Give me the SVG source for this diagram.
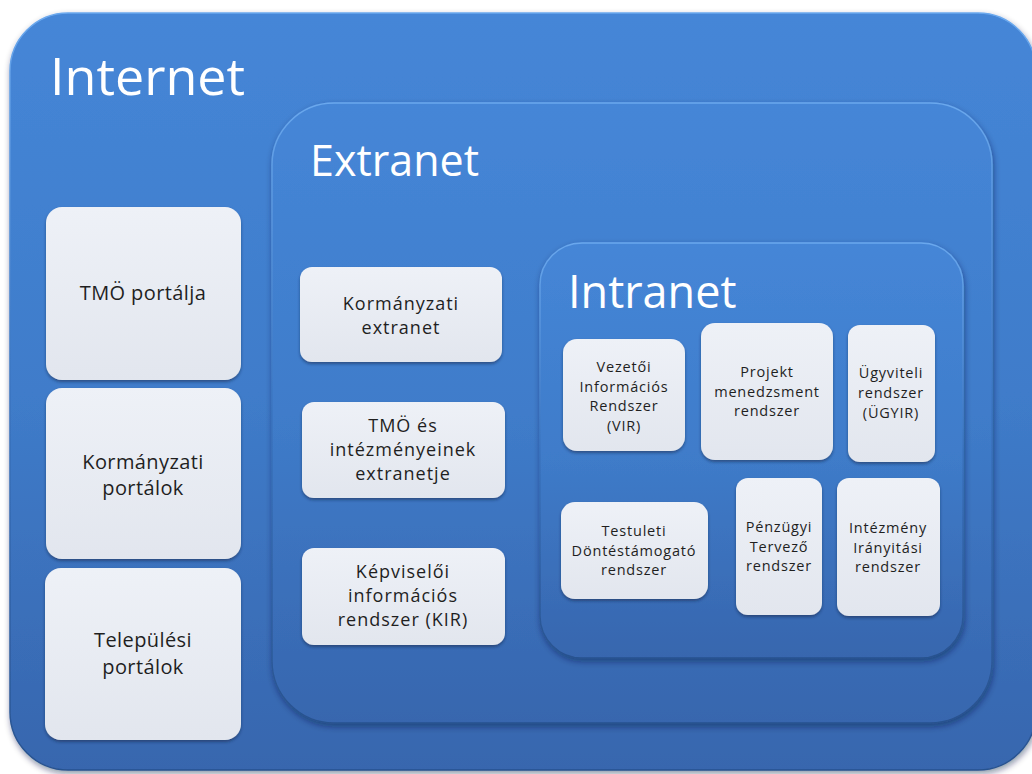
<svg xmlns="http://www.w3.org/2000/svg" width="1032" height="774" viewBox="0 0 1032 774">
<defs>
<linearGradient id="gBlue" x1="0" y1="0" x2="0" y2="1">
<stop offset="0" stop-color="#4586d7"/>
<stop offset="0.5" stop-color="#3f7cca"/>
<stop offset="1" stop-color="#3766ae"/>
</linearGradient>
<linearGradient id="gEdge" x1="0" y1="0" x2="0" y2="1">
<stop offset="0" stop-color="#6aa8ee"/>
<stop offset="0.5" stop-color="#3a74c0"/>
<stop offset="1" stop-color="#28528f"/>
</linearGradient>
<linearGradient id="gNode" x1="0" y1="0" x2="0" y2="1">
<stop offset="0" stop-color="#eef1f7"/>
<stop offset="1" stop-color="#e2e6ee"/>
</linearGradient>
<filter id="shOuter" x="-5%" y="-5%" width="110%" height="110%">
<feDropShadow dx="1" dy="3" stdDeviation="3" flood-color="#0a1e40" flood-opacity="0.45"/>
</filter>
<filter id="shNode" x="-10%" y="-10%" width="120%" height="125%">
<feDropShadow dx="0" dy="2" stdDeviation="1.5" flood-color="#0a1e40" flood-opacity="0.5"/>
</filter>
</defs>
<style>
.cont{fill:url(#gBlue);stroke:url(#gEdge);stroke-width:1.5;filter:url(#shOuter)}
.node{fill:url(#gNode);filter:url(#shNode)}
.title{font-family:"Open Sans","Noto Sans",sans-serif;fill:#ffffff}
.t{font-family:"Open Sans","Noto Sans",sans-serif;fill:#1f1f1f;text-anchor:middle}
.big{font-size:20px;letter-spacing:0.4px}
.mid{font-size:18px;letter-spacing:1px}
.sm{font-size:14.5px;letter-spacing:0.8px}
</style>
<rect width="1032" height="774" fill="#ffffff"/>
<g id="internet">
<rect class="cont" x="10" y="13" width="1026" height="757" rx="58"/>
<text class="title" x="50" y="95" font-size="52">Internet</text>
</g>
<g id="extranet">
<rect class="cont" x="272" y="103" width="720" height="620" rx="62"/>
<text class="title" x="310" y="176" font-size="43">Extranet</text>
</g>
<g id="intranet">
<rect class="cont" x="540" y="243" width="423" height="415" rx="42"/>
<text class="title" x="568" y="308" font-size="45">Intranet</text>
</g>
<g id="tmo-portalja">
<rect class="node" x="46" y="207" width="195" height="173" rx="16"/>
<text class="t big" x="143" y="300">TMÖ portálja</text>
</g>
<g id="kormanyzati-portalok">
<rect class="node" x="46" y="388" width="195" height="171" rx="16"/>
<text class="t big" x="143" y="469">Kormányzati<tspan x="143" dy="26">portálok</tspan></text>
</g>
<g id="telepulesi-portalok">
<rect class="node" x="45" y="568" width="196" height="172" rx="16"/>
<text class="t big" x="143" y="647">Települési<tspan x="143" dy="27">portálok</tspan></text>
</g>
<g id="kormanyzati-extranet">
<rect class="node" x="300" y="267" width="202" height="95" rx="12"/>
<text class="t mid" x="401" y="310">Kormányzati<tspan x="401" dy="24">extranet</tspan></text>
</g>
<g id="tmo-extranet">
<rect class="node" x="302" y="402" width="203" height="96" rx="12"/>
<text class="t mid" x="403" y="432">TMÖ és<tspan x="403" dy="24">intézményeinek</tspan><tspan x="403" dy="24">extranetje</tspan></text>
</g>
<g id="kir">
<rect class="node" x="302" y="548" width="203" height="97" rx="12"/>
<text class="t mid" x="403" y="578">Képviselői<tspan x="403" dy="24">információs</tspan><tspan x="403" dy="24">rendszer (KIR)</tspan></text>
</g>
<g id="vir">
<rect class="node" x="563" y="339" width="122" height="112" rx="14"/>
<text class="t sm" x="624" y="372">Vezetői<tspan x="624" dy="19.5">Információs</tspan><tspan x="624" dy="19.5">Rendszer</tspan><tspan x="624" dy="19.5">(VIR)</tspan></text>
</g>
<g id="projekt">
<rect class="node" x="701" y="323" width="132" height="137" rx="14"/>
<text class="t sm" x="767" y="377">Projekt<tspan x="767" dy="19.5">menedzsment</tspan><tspan x="767" dy="19.5">rendszer</tspan></text>
</g>
<g id="ugyir">
<rect class="node" x="848" y="325" width="87" height="137" rx="12"/>
<text class="t sm" x="891" y="378">Ügyviteli<tspan x="891" dy="20">rendszer</tspan><tspan x="891" dy="20">(ÜGYIR)</tspan></text>
</g>
<g id="testuleti">
<rect class="node" x="561" y="502" width="147" height="97" rx="14"/>
<text class="t sm" x="634" y="536">Testuleti<tspan x="634" dy="19.5">Döntéstámogató</tspan><tspan x="634" dy="19.5">rendszer</tspan></text>
</g>
<g id="penzugyi">
<rect class="node" x="736" y="478" width="86" height="137" rx="12"/>
<text class="t sm" x="779" y="532">Pénzügyi<tspan x="779" dy="19.5">Tervező</tspan><tspan x="779" dy="19.5">rendszer</tspan></text>
</g>
<g id="intezmeny">
<rect class="node" x="837" y="478" width="103" height="138" rx="12"/>
<text class="t sm" x="888" y="533">Intézmény<tspan x="888" dy="19.5">Irányitási</tspan><tspan x="888" dy="19.5">rendszer</tspan></text>
</g>
<g id="connectors"></g>
</svg>
